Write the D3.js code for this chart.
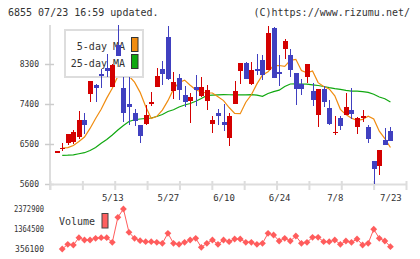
<!DOCTYPE html>
<html>
<head>
<meta charset="utf-8">
<script src="https://cdn.jsdelivr.net/npm/d3@7"></script>
<style>
  body { margin: 0; background: #fff; }
  text { font-family: "DejaVu Sans Mono", monospace; fill: #333; }
</style>
</head>
<body>
<div id="chart"></div>
<script>
// trading days, 2024-04-24 .. 2024-07-23
const dates = ["4/24","4/25","4/26","4/30","5/1","5/2","5/7","5/8","5/9","5/10",
  "5/13","5/14","5/15","5/16","5/17","5/20","5/21","5/22","5/23","5/24",
  "5/27","5/28","5/29","5/30","5/31","6/3","6/4","6/5","6/6","6/7",
  "6/10","6/11","6/12","6/13","6/14","6/17","6/18","6/19","6/20","6/21",
  "6/24","6/25","6/26","6/27","6/28","7/1","7/2","7/3","7/4","7/5",
  "7/8","7/9","7/10","7/11","7/12","7/16","7/17","7/18","7/19","7/22","7/23"];
const labelDays = ["5/13","5/27","6/10","6/24","7/8","7/23"];

const open  = [6340,6400,6530,6545,6657,7033,7634,7834,8082,8210,7790,8720,7760,7407,7205,6934,6957,7393,7790,8188,
  8915,7700,7990,7602,7475,7790,7580,7475,6957,7205,6995,6635,7407,8142,8322,7857,8195,8382,8172,9110,
  8110,8645,8495,8098,7850,8008,7692,7160,7730,7310,6760,7085,7145,7257,6883,7115,6883,6110,6005,6600,6785];
const high  = [6340,6530,6732,6808,7236,7204,7911,7850,8180,8530,8290,9170,8008,8008,7295,6934,7370,7677,8200,8375,
  9155,8130,8075,7805,7655,8053,8000,7827,7130,7280,7407,7205,7910,8322,8345,8345,8532,8510,9155,9132,
  8495,8870,8645,8098,7970,8310,7872,7730,7805,7483,7122,7122,7655,7760,7107,7257,6920,6110,6358,6860,6882];
const low   = [6340,6340,6485,6508,6620,6732,7445,7437,7756,8000,7780,8490,6995,6928,6905,6530,6934,7355,7790,7835,
  7940,7520,7500,7325,6980,7355,7550,7265,6755,6920,6800,6455,7407,7857,7955,7820,8045,7932,8172,7985,
  7805,8420,8008,7370,7610,7872,7355,6875,7325,6920,6710,6808,7145,7070,6732,6995,6530,5607,5810,6485,6560];
const close = [6340,6420,6732,6770,7033,6920,7911,7767,8030,8150,8270,8490,7205,7333,7010,6680,7145,7445,8030,8075,
  7970,7900,7715,7452,7565,7715,7790,7715,7033,7130,6935,7130,7685,8322,7970,8158,8142,8045,9000,7985,
  8065,8818,8158,7730,7730,8290,7497,7730,7445,6957,6775,6905,7332,7182,7085,7130,6605,5945,6358,6485,6567];

const ma5 = [null,6410,6420,6465,6555,6657,6850,7073,7280,7532,7756,8026,8141,8029,7890,7662,7344,7075,7123,7262,
  7475,7733,7884,7938,7822,7720,7669,7647,7647,7564,7477,7321,7189,7183,7440,7608,7853,8055,8127,8263,
  8266,8247,8383,8405,8151,8100,8145,7881,7795,7738,7584,7280,7161,7082,7029,7055,7125,7065,6788,6623,6420];
const ma25 = [null,6246,6248,6257,6280,6304,6354,6421,6518,6601,6703,6815,6916,7006,7045,7063,7074,7085,7119,7164,
  7231,7270,7333,7378,7411,7463,7524,7591,7600,7605,7610,7608,7606,7604,7607,7610,7600,7573,7636,7677,
  7711,7794,7850,7852,7850,7846,7832,7816,7794,7769,7747,7729,7706,7688,7688,7679,7661,7620,7558,7519,7445];

const volume = [null,356100,593000,557800,925800,809900,809900,895600,925800,925800,693900,1954400,2372900,1198100,895600,774600,724200,724200,693900,643500,
  1147700,643500,593000,693900,809900,895600,441800,643500,809900,593000,809900,724200,860300,860300,693900,693900,593000,643500,1147700,1062000,
  759500,895600,759500,1011600,643500,693900,946000,946000,724200,724200,809900,593000,759500,693900,860300,557800,643500,1352000,895600,759500,472100];

const priceTicks = [5600, 6500, 7400, 8300];
const volumeTicks = [356100, 1364500, 2372900];

const w = 420, h = 259;
const red = "#d40000", blue = "#4040c0";
const orange = "#f08c10", green = "#10a810", pink = "#ff5c5c";

const svg = d3.select("#chart").append("svg")
  .attr("width", w).attr("height", h);

svg.append("rect").attr("width", w).attr("height", h).attr("fill", "#fff");

// scales
const x = d3.scaleLinear().domain([-1.2, 62.8]).range([50, 406]);
const y = d3.scaleLinear().domain([5600, 9200]).range([184, 24]);
const yv = d3.scaleLinear().domain([356100, 2372900]).range([249, 209]);
const grid = d3.scaleLinear().domain([0, 11]).range([50, 406]);

// header
svg.append("text").attr("x", 8).attr("y", 15.5).attr("font-size", 10)
  .text("6855 07/23 16:59 updated.");
svg.append("text").attr("x", 410).attr("y", 15.5).attr("font-size", 10)
  .attr("text-anchor", "end").text("(C)https://www.rizumu.net/");

// left axis line
svg.append("line")
  .attr("x1", 50).attr("x2", 50).attr("y1", 25).attr("y2", 190)
  .attr("stroke", "#ddd").attr("stroke-width", 2);

// price axis
const yAxis = svg.append("g").attr("transform", "translate(50,0)")
  .call(d3.axisLeft(y).tickValues(priceTicks).tickFormat(d3.format("d"))
    .tickSize(5).tickPadding(6).tickSizeOuter(0));
yAxis.select(".domain").remove();
yAxis.selectAll("line").attr("x1", 4).attr("stroke", "#ccc").attr("stroke-width", 1.5);
yAxis.selectAll("text").attr("font-size", 8).attr("font-family", "DejaVu Sans Mono").attr("fill", "#333");

// bottom grid axis
const gAxis = svg.append("g").attr("transform", "translate(0,184)")
  .call(d3.axisBottom(grid).tickValues(d3.range(12)).tickFormat("").tickSize(6).tickSizeOuter(0));
gAxis.select(".domain").attr("stroke", "#ddd").attr("stroke-width", 2);
gAxis.selectAll("line").attr("y1", -3).attr("stroke", "#ddd").attr("stroke-width", 2);

// date labels
const xAxis = svg.append("g").attr("transform", "translate(0,184)")
  .call(d3.axisBottom(x).tickValues(labelDays.map(d => dates.indexOf(d)))
    .tickFormat(i => dates[i]).tickSize(0).tickPadding(11));
xAxis.select(".domain").remove();
xAxis.selectAll("text").attr("font-size", 9).attr("font-family", "DejaVu Sans Mono").attr("fill", "#333");

// moving averages
const maLine = d3.line()
  .defined(d => d != null)
  .x((d, i) => x(i))
  .y(d => y(d));

svg.append("path").datum(ma25)
  .attr("d", maLine).attr("fill", "none")
  .attr("stroke", green).attr("stroke-width", 1.2);
svg.append("path").datum(ma5)
  .attr("d", maLine).attr("fill", "none")
  .attr("stroke", orange).attr("stroke-width", 1.2);

// legend
svg.append("rect").attr("x", 65).attr("y", 30).attr("width", 78).attr("height", 47)
  .attr("fill", "#fff").attr("stroke", "#ddd").attr("stroke-width", 2);
svg.append("text").attr("x", 125).attr("y", 49.5).attr("font-size", 10)
  .attr("text-anchor", "end").text("5-day MA");
svg.append("text").attr("x", 125).attr("y", 66.5).attr("font-size", 10)
  .attr("text-anchor", "end").text("25-day MA");
svg.append("rect").attr("x", 131.5).attr("y", 37.5).attr("width", 6.5).attr("height", 14)
  .attr("fill", orange).attr("stroke", "#333");
svg.append("rect").attr("x", 131.5).attr("y", 54.5).attr("width", 6.5).attr("height", 14)
  .attr("fill", green).attr("stroke", "#333");

// candles
const idx = d3.range(dates.length);
const candle = svg.append("g").attr("shape-rendering", "crispEdges");

candle.selectAll(".wick")
  .data(idx)
  .enter()
  .append("line")
  .attr("class", "wick")
  .attr("x1", i => Math.round(x(i)) + 0.5)
  .attr("x2", i => Math.round(x(i)) + 0.5)
  .attr("y1", i => y(high[i]))
  .attr("y2", i => y(low[i]))
  .attr("stroke", i => close[i] >= open[i] ? red : blue)
  .attr("stroke-width", 1);

candle.selectAll(".body")
  .data(idx)
  .enter()
  .append("rect")
  .attr("class", "body")
  .attr("x", i => Math.round(x(i)) - 2)
  .attr("width", 5)
  .attr("y", i => y(Math.max(open[i], close[i])))
  .attr("height", i => Math.max(1.5, Math.abs(y(open[i]) - y(close[i]))))
  .attr("fill", i => close[i] >= open[i] ? red : blue);

// volume
const vAxis = svg.append("g").attr("transform", "translate(50,0)")
  .call(d3.axisLeft(yv).tickValues(volumeTicks).tickFormat(d3.format("d")).tickSize(0).tickPadding(6));
vAxis.select(".domain").remove();
vAxis.selectAll("text").attr("font-size", 8).attr("font-family", "DejaVu Sans Mono").attr("fill", "#333")
  .filter(d => String(d).length > 6)
  .attr("textLength", 30).attr("lengthAdjust", "spacingAndGlyphs");

svg.append("text").attr("x", 59).attr("y", 224.5).attr("font-size", 10).text("Volume");
svg.append("rect").attr("x", 102).attr("y", 213.5).attr("width", 6).attr("height", 14.5)
  .attr("fill", "#ff6060").attr("stroke", "#444");

const volLine = d3.line()
  .defined(d => d != null)
  .x((d, i) => x(i))
  .y(d => yv(d));

svg.append("path").datum(volume)
  .attr("d", volLine).attr("fill", "none")
  .attr("stroke", pink).attr("stroke-width", 1);

svg.selectAll(".vol")
  .data(idx.filter(i => volume[i] != null))
  .enter()
  .append("rect")
  .attr("class", "vol")
  .attr("x", -2.4).attr("y", -2.4)
  .attr("width", 4.8).attr("height", 4.8)
  .attr("transform", i => `translate(${x(i)},${yv(volume[i])}) rotate(45)`)
  .attr("fill", pink);
</script>
</body>
</html>
